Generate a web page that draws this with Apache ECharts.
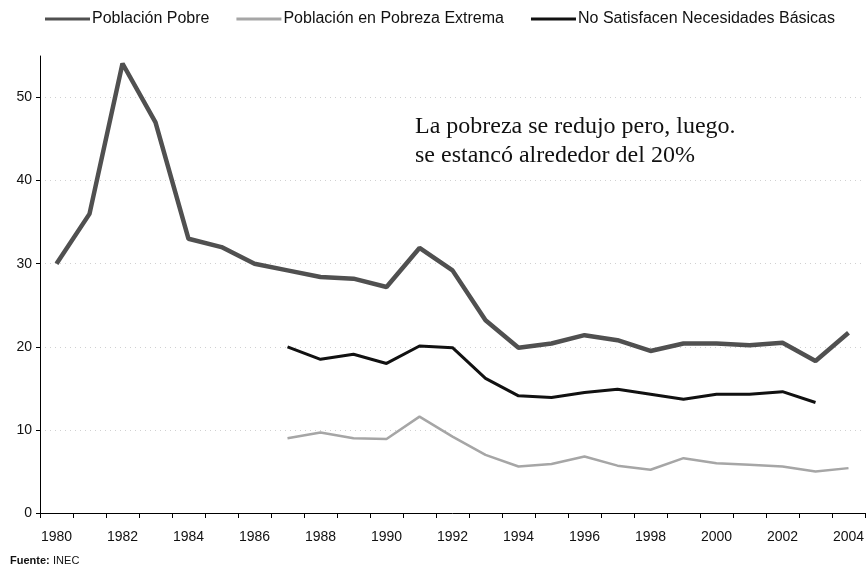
<!DOCTYPE html>
<html>
<head>
<meta charset="utf-8">
<script src="https://cdn.jsdelivr.net/npm/echarts@6/dist/echarts.min.js"></script>
<style>
  html, body { margin: 0; padding: 0; background: #fff; }
  #chart { width: 868px; height: 573px; }
</style>
</head>
<body>
<div id="chart"></div>
<script>
(function () {
    'use strict';

    var years = ['1980', '1981', '1982', '1983', '1984', '1985', '1986', '1987', '1988', '1989',
        '1990', '1991', '1992', '1993', '1994', '1995', '1996', '1997', '1998', '1999',
        '2000', '2001', '2002', '2003', '2004'];

    var poblacionPobre = [30, 36, 54.1, 47, 33, 32, 30, 29.2, 28.4, 28.2,
        27.2, 31.9, 29.2, 23.2, 19.9, 20.4, 21.4, 20.8, 19.5, 20.4,
        20.4, 20.2, 20.5, 18.3, 21.7];

    var pobrezaExtrema = [null, null, null, null, null, null, null, 9.0, 9.7, 9.0,
        8.9, 11.6, 9.2, 7.0, 5.6, 5.9, 6.8, 5.7, 5.2, 6.6,
        6.0, 5.8, 5.6, 5.0, 5.4];

    var necesidadesBasicas = [null, null, null, null, null, null, null, 20.0, 18.5, 19.1,
        18.0, 20.1, 19.9, 16.2, 14.1, 13.9, 14.5, 14.9, 14.3, 13.7,
        14.3, 14.3, 14.6, 13.3, null];

    var seriesNames = ['Población Pobre', 'Población en Pobreza Extrema', 'No Satisfacen Necesidades Básicas'];

    var sans = 'Liberation Sans, Arial, sans-serif';

    var chart = echarts.init(document.getElementById('chart'));

    var option = {
        animation: false,
        legend: {
            data: seriesNames,
            icon: 'rect',
            left: 40,
            top: 6,
            itemWidth: 45,
            itemHeight: 3,
            itemGap: 27,
            textStyle: {
                fontFamily: sans,
                fontSize: 16,
                color: '#111',
                padding: [0, 0, 0, -3]
            }
        },
        grid: {
            left: 40,
            right: 3,
            top: 56,
            bottom: 60,
            containLabel: false
        },
        xAxis: {
            type: 'category',
            data: years,
            boundaryGap: true,
            axisLine: { lineStyle: { color: '#000', width: 1 } },
            axisTick: { show: true, interval: 0, length: 5, lineStyle: { color: '#000' } },
            axisLabel: {
                interval: 1,
                margin: 17,
                fontFamily: sans,
                fontSize: 14,
                color: '#111'
            },
            splitLine: { show: false }
        },
        yAxis: {
            type: 'value',
            min: 0,
            max: 55,
            interval: 10,
            axisLine: { show: true, lineStyle: { color: '#000', width: 1 } },
            axisTick: { show: true, length: 4, lineStyle: { color: '#000' } },
            axisLabel: {
                showMaxLabel: false,
                margin: 8,
                fontFamily: sans,
                fontSize: 14,
                color: '#111'
            },
            splitLine: {
                show: true,
                showMinLine: false,
                showMaxLine: false,
                lineStyle: { color: '#d0d0d0', type: [1, 4], width: 1 }
            }
        },
        series: [{
            name: seriesNames[0],
            type: 'line',
            data: poblacionPobre,
            symbol: 'none',
            lineStyle: { color: '#505050', width: 4.5 },
            itemStyle: { color: '#505050' },
            z: 3
        }, {
            name: seriesNames[1],
            type: 'line',
            data: pobrezaExtrema,
            symbol: 'none',
            lineStyle: { color: '#a6a6a6', width: 2.5 },
            itemStyle: { color: '#a6a6a6' },
            z: 2
        }, {
            name: seriesNames[2],
            type: 'line',
            data: necesidadesBasicas,
            symbol: 'none',
            lineStyle: { color: '#111', width: 3 },
            itemStyle: { color: '#111' },
            z: 2
        }],
        graphic: [{
            type: 'text',
            left: 415,
            top: 112,
            style: {
                text: 'La pobreza se redujo pero, luego.\nse estancó alrededor del 20%',
                font: '24px "Liberation Serif", "Times New Roman", serif',
                lineHeight: 29,
                fill: '#111'
            }
        }, {
            type: 'text',
            left: 10,
            top: 555,
            style: {
                text: '{b|Fuente:} {n|INEC}',
                rich: {
                    b: { fontFamily: sans, fontSize: 11, fontWeight: 'bold', fill: '#111' },
                    n: { fontFamily: sans, fontSize: 11, fill: '#111' }
                }
            }
        }]
    };

    chart.setOption(option);
})();
</script>
</body>
</html>
